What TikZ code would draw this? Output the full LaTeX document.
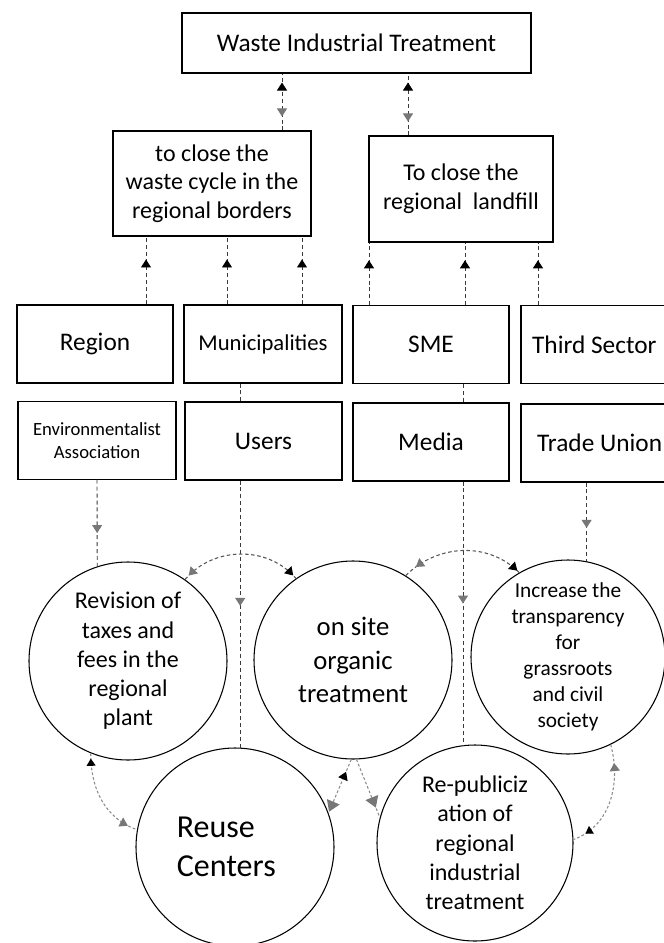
\documentclass[tikz,border=0pt]{standalone}
\usepackage{fontspec}
\setmainfont{Carlito}
\usetikzlibrary{arrows.meta,decorations.markings}

\definecolor{tipgray}{HTML}{777777}
\definecolor{linkgray}{HTML}{3A3A3A}
\definecolor{arcgray}{HTML}{555555}
\definecolor{softgray}{HTML}{8C8C8C}

\tikzset{
  box/.style={draw, line width=0.8pt, inner sep=1pt, align=center,
    font=\fontsize{19}{23}\selectfont},
  goal/.style={circle, draw, line width=0.8pt, inner sep=0pt, align=center},
  link/.style={draw=linkgray, line width=0.7pt, dash pattern=on 3pt off 2.2pt},
  arcl/.style={draw=arcgray, line width=0.8pt, dash pattern=on 2.6pt off 2pt},
  soft/.style={draw=softgray, line width=0.8pt, dash pattern=on 2pt off 1.6pt},
  fwdtip/.style n args={3}{postaction={decorate,decoration={markings,
    mark=at position #1 with {\arrow{Triangle[width=7.5pt,length=6pt,scale=#3,color=#2]}}}}},
  bwdtip/.style n args={3}{postaction={decorate,decoration={markings,
    mark=at position #1 with {\arrowreversed{Triangle[width=7.5pt,length=6pt,scale=#3,color=#2]}}}}},
}

\begin{document}
\begin{tikzpicture}[x=0.75pt,y=-0.75pt]
\fill[white] (0,0) rectangle (664,943);
\useasboundingbox (0,0) rectangle (664,943);

% --- top level
\node[box, minimum width=261.75pt, minimum height=45pt] (wit) at (356.5,43)
  {Waste Industrial Treatment};

% --- aims
\node[box, minimum width=148.5pt, minimum height=78.75pt,
  font=\fontsize{18}{21.5}\selectfont] (aim1) at (212,183.5)
  {to close the\\waste cycle in the\\regional borders};
\node[box, minimum width=138pt, minimum height=79.5pt,
  font=\fontsize{18}{21.5}\selectfont] (aim2) at (461,189)
  {To close the\\regional~ landfill};

% --- actors, first row
\node[box, minimum width=117pt, minimum height=58.5pt] (region) at (95,344) {Region};
\node[box, minimum width=118.5pt, minimum height=58.5pt,
  font=\fontsize{17}{20}\selectfont] (muni) at (263,344) {Municipalities};
\node[box, minimum width=117pt, minimum height=58pt] (sme) at (431,344.5) {SME};
\node[box, minimum width=120pt, minimum height=58pt] (third) at (601,344.5)
  {Third Sector\rule{10pt}{0pt}};

% --- actors, second row
\node[box, minimum width=118.5pt, minimum height=58pt,
  font=\fontsize{14}{17}\selectfont] (env) at (97,440.5)
  {Environmentalist\\Association};
\node[box, minimum width=117.75pt, minimum height=58.5pt] (users) at (263.5,441) {Users};
\node[box, minimum width=117pt, minimum height=58.5pt] (media) at (431,442) {Media};
\node[box, minimum width=120pt, minimum height=58.5pt] (tu) at (601,443)
  {Trade Union\rule{2pt}{0pt}};

% --- actions
\node[goal, minimum size=148.5pt, font=\fontsize{18}{22}\selectfont] (c1) at (128,661)
  {Revision of\\taxes and\\fees in the\\regional\\plant};
\node[goal, minimum size=148.5pt, font=\fontsize{20}{25}\selectfont] (c2) at (353,660)
  {on site\\organic\\treatment};
\node[goal, minimum size=145.5pt, font=\fontsize{16}{19.5}\selectfont] (c3) at (568,657)
  {Increase the\\transparency\\for\\grassroots\\and civil\\society};
\node[goal, minimum size=148.5pt, align=left, font=\fontsize{24}{29}\selectfont] (reuse) at (235,847)
  {Reuse\\Centers\rule{13pt}{0pt}};
\node[goal, minimum size=147pt, font=\fontsize{18}{22}\selectfont] (rep) at (475,843)
  {Re-publiciz\\ation of\\regional\\industrial\\treatment};

% --- connector columns
\coordinate (xa) at (282,0);
\coordinate (xb) at (408,0);
\coordinate (xc) at (146,0);
\coordinate (xd) at (227,0);
\coordinate (xe) at (302,0);
\coordinate (xf) at (369,0);
\coordinate (xg) at (465,0);
\coordinate (xh) at (538,0);

% aims <-> top level
\draw[link, fwdtip={-6.75pt}{black}{1}, bwdtip={10.5pt}{tipgray}{1}]
  (aim1.north -| xa) -- (wit.south -| xa);
\draw[link, fwdtip={-6.75pt}{black}{1}, bwdtip={10.5pt}{tipgray}{1}]
  (aim2.north -| xb) -- (wit.south -| xb);

% actors -> aims
\draw[link, fwdtip={33.75pt}{black}{1}] (region.north -| xc) -- (aim1.south -| xc);
\draw[link, fwdtip={33.75pt}{black}{1}] (muni.north -| xd) -- (aim1.south -| xd);
\draw[link, fwdtip={33.75pt}{black}{1}] (muni.north -| xe) -- (aim1.south -| xe);
\draw[link, fwdtip={33.75pt}{black}{1}] (sme.north -| xf) -- (aim2.south -| xf);
\draw[link, fwdtip={33.75pt}{black}{1}] (sme.north -| xg) -- (aim2.south -| xg);
\draw[link, fwdtip={33.75pt}{black}{1}] (third.north -| xh) -- (aim2.south -| xh);

% first row -> second row
\draw[link] (muni.south -| reuse.87) -- (users.north -| reuse.87);
\draw[link] (sme.south -| rep.97.6) -- (media.north -| rep.97.6);

% second row -> actions
\draw[link, fwdtip={40pt}{tipgray}{1}] (env.south) -- (c1.108);
\draw[link, fwdtip={94pt}{tipgray}{1}] (users.south -| reuse.87) -- (reuse.87);
\draw[link, fwdtip={91.5pt}{tipgray}{1}] (media.south -| rep.97.6) -- (rep.97.6);
\draw[link, fwdtip={34pt}{tipgray}{1}] (tu.south -| c3.79) -- (c3.79);

% links between actions
\draw[arcl, bwdtip={4pt}{tipgray}{1}, fwdtip={-3pt}{black}{1}]
  (c1.55) to[out=50,in=130] (c2.125);
\draw[arcl, bwdtip={10pt}{tipgray}{1}, fwdtip={-2pt}{black}{1}]
  (c2.58) to[out=45,in=135] (c3.120);
\draw[soft, bwdtip={4pt}{black}{0.9}, fwdtip={-7.5pt}{tipgray}{1}]
  (c1.248) to[out=-90,in=160] (reuse.170);
\draw[soft, bwdtip={14pt}{tipgray}{1}, fwdtip={-10pt}{black}{0.9}]
  (c3.-64) to[out=-75,in=20] (rep.2);
\draw[soft, bwdtip={10pt}{black}{1}, fwdtip={-1pt}{tipgray}{1.35}]
  (c2.-91) -- (reuse.20);
\draw[soft, fwdtip={-8pt}{tipgray}{1.35}]
  (c2.-88) -- (rep.165);
\end{tikzpicture}
\end{document}
